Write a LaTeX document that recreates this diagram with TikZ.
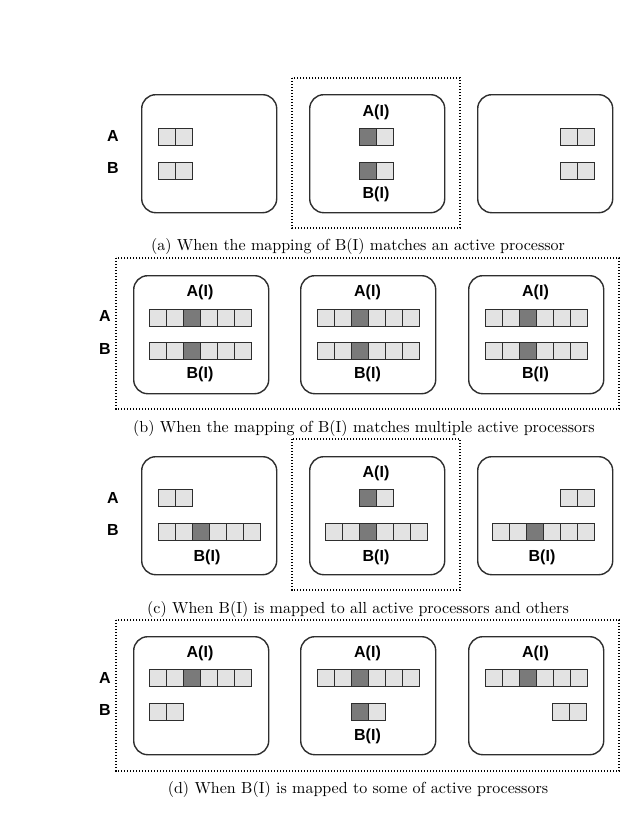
\documentclass[tikz,border=0pt]{standalone}
\usepackage{fontspec}
\setsansfont{Liberation Sans}
\newfontfamily\capfont{lmroman10-regular.otf}
\usepackage{tikz}
\usetikzlibrary{positioning}
\definecolor{cellgray}{HTML}{E3E3E3}
\definecolor{hotgray}{HTML}{7A7A7A}
\definecolor{edgegray}{HTML}{2E2E2E}
% a row of cells: name, left, top, number of cells, dark cell (0 = none)
\newcommand{\cellrow}[5]{%
  \foreach \k in {1,...,#4}{%
    \ifnum\k=#5 \def\cellfill{hotgray}\else\def\cellfill{cellgray}\fi
    \node[cell, fill=\cellfill] (#1-\k) at ({#2+(\k-1)*17}, #3) {};
  }%
}

\begin{document}
\begin{tikzpicture}[
  x=1pt, y=-1pt,
  proc/.style={draw=edgegray, line width=1.4pt, rounded corners=14pt, minimum width=135pt, minimum height=118pt, anchor=north west, inner sep=0pt},
  cell/.style={draw=edgegray, line width=1.4pt, minimum width=17pt, minimum height=17pt, inner sep=0pt, anchor=north west},
  lbl/.style={font=\sffamily\bfseries\fontsize{16}{18}\selectfont, inner sep=0pt},
  subcap/.style={font=\capfont\fontsize{16}{19}\selectfont, inner sep=0pt},
  frame/.style={draw=black, line width=1.2pt, dash pattern=on 1.3pt off 1.7pt}
]
\useasboundingbox (0,0) rectangle (629,838);

% (a)
\draw[frame] (292,78) rectangle (460,228);
\node[proc] (a1) at (141,94) {};
\node[proc] (a2) at (309,94) {};
\node[proc] (a3) at (477,94) {};
\node[lbl] (aA) at (113,136) {A};
\node[lbl] (aB) at (113,168) {B};
\cellrow{a1A}{158}{128}{2}{0}
\cellrow{a1B}{158}{162}{2}{0}
\node[lbl] (a2AI) at (376,112) {A(I)};
\cellrow{a2A}{359}{128}{2}{1}
\cellrow{a2B}{359}{162}{2}{1}
\node[lbl] (a2BI) at (376,194) {B(I)};
\cellrow{a3A}{560}{128}{2}{0}
\cellrow{a3B}{560}{162}{2}{0}
\node[subcap] (capa) at (358,246) {(a) When the mapping of B(I) matches an active processor};

% (b)
\draw[frame] (116,258) rectangle (619,409);
\node[proc] (b1) at (133,275) {};
\node[proc] (b2) at (300,275) {};
\node[proc] (b3) at (468,275) {};
\node[lbl] (bA) at (105,316) {A};
\node[lbl] (bB) at (105,349) {B};
\node[lbl] (b1AI) at (200,292) {A(I)};
\cellrow{b1A}{149}{309}{6}{3}
\cellrow{b1B}{149}{342}{6}{3}
\node[lbl] (b1BI) at (200,374) {B(I)};
\node[lbl] (b2AI) at (367.5,292) {A(I)};
\cellrow{b2A}{316.5}{309}{6}{3}
\cellrow{b2B}{316.5}{342}{6}{3}
\node[lbl] (b2BI) at (367.5,374) {B(I)};
\node[lbl] (b3AI) at (535.5,292) {A(I)};
\cellrow{b3A}{484.5}{309}{6}{3}
\cellrow{b3B}{484.5}{342}{6}{3}
\node[lbl] (b3BI) at (535.5,374) {B(I)};
\node[subcap] (capb) at (364,428) {(b) When the mapping of B(I) matches multiple active processors};

% (c)
\draw[frame] (292,439) rectangle (460,590);
\node[proc] (c1) at (141,456) {};
\node[proc] (c2) at (309,456) {};
\node[proc] (c3) at (477,456) {};
\node[lbl] (cA) at (113,498) {A};
\node[lbl] (cB) at (113,530) {B};
\cellrow{c1A}{158}{489}{2}{0}
\cellrow{c1B}{158}{523}{6}{3}
\node[lbl] (c1BI) at (207,557) {B(I)};
\node[lbl] (c2AI) at (376,473) {A(I)};
\cellrow{c2A}{359}{489}{2}{1}
\cellrow{c2B}{325}{523}{6}{3}
\node[lbl] (c2BI) at (376,557) {B(I)};
\cellrow{c3A}{560}{489}{2}{0}
\cellrow{c3B}{492}{523}{6}{3}
\node[lbl] (c3BI) at (542,557) {B(I)};
\node[subcap] (capc) at (358,609) {(c) When B(I) is mapped to all active processors and others};

% (d)
\draw[frame] (116,620) rectangle (619,771);
\node[proc] (d1) at (133,636) {};
\node[proc] (d2) at (300,636) {};
\node[proc] (d3) at (468,636) {};
\node[lbl] (dA) at (105,678) {A};
\node[lbl] (dB) at (105,710) {B};
\node[lbl] (d1AI) at (200,653) {A(I)};
\cellrow{d1A}{149}{669}{6}{3}
\cellrow{d1B}{149}{703}{2}{0}
\node[lbl] (d2AI) at (367.5,653) {A(I)};
\cellrow{d2A}{316.5}{669}{6}{3}
\cellrow{d2B}{350.5}{703}{2}{1}
\node[lbl] (d2BI) at (367.5,736) {B(I)};
\node[lbl] (d3AI) at (535.5,653) {A(I)};
\cellrow{d3A}{484.5}{669}{6}{3}
\cellrow{d3B}{552}{703}{2}{0}
\node[subcap] (capd) at (358,789) {(d) When B(I) is mapped to some of active processors};
\end{tikzpicture}
\end{document}
